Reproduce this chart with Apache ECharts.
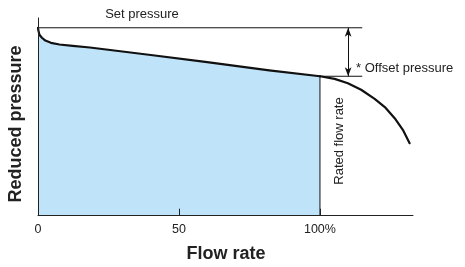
<!DOCTYPE html>
<html>
<head>
<meta charset="utf-8">
<script src="https://cdn.jsdelivr.net/npm/echarts@6/dist/echarts.min.js"></script>
<style>html,body{margin:0;padding:0;background:#fff}#c{width:465px;height:267px}</style>
</head>
<body>
<div id="c"></div>
<script>
// Regulation curve (reduced pressure vs flow rate), set pressure = 100
var flowX  = [0, 0.1, 0.5, 1.4, 2.6, 4.6, 7.6, 12.3, 18.4, 40, 60, 82, 100];
var pressY = [100, 98.8, 96.3, 94.7, 93.2, 92.0, 91.1, 90.4, 89.5, 85.5, 81.7, 77.3, 74.2];
var tailX  = [100, 105.2, 109.9, 114.6, 119.4, 123.0, 126.5, 129.4, 131.8];
var tailY  = [74.2, 72.8, 70.5, 67.0, 62.2, 57.8, 51.9, 45.7, 38.6];
var setPressure = 100;
var ratedFlow = 100;
var offsetLevel = 74.2;
var refLineEnd = 115;
var arrowX = 110;
var xTicks = [0, 50, 100];
var xTickLabels = ['0', '50', '100%'];
var xMax = 133, yMax = 105.2;

function pairs(xs, ys){ return xs.map(function(x,i){ return [x, ys[i]]; }); }

var FONT = 'Liberation Sans, Arial, Helvetica, sans-serif';
var chart = echarts.init(document.getElementById('c'), null, {renderer:'canvas'});
chart.setOption({
  animation:false,
  backgroundColor:'#fff',
  grid:{left:38, right:52, top:18, bottom:51.3},
  xAxis:{type:'value', min:0, max:xMax, z:10,
    axisLine:{show:true, lineStyle:{color:'#222', width:1}},
    axisTick:{show:true, inside:true, length:7, customValues:xTicks, lineStyle:{color:'#222'}},
    axisLabel:{show:true, customValues:xTicks, margin:7, fontSize:12.5, color:'#222', fontFamily:FONT,
      formatter:function(v){ var i = xTicks.indexOf(v); return i>=0 ? xTickLabels[i] : ''; }},
    splitLine:{show:false}
  },
  yAxis:{type:'value', min:0, max:yMax, z:10,
    axisLine:{show:true, lineStyle:{color:'#222', width:1}},
    axisTick:{show:false}, axisLabel:{show:false}, splitLine:{show:false}
  },
  series:[
    {type:'line', data:pairs(flowX, pressY), smooth:false, symbol:'none',
      lineStyle:{color:'#111', width:2.2, join:'round', cap:'round'}, areaStyle:{color:'#bfe4fa', opacity:1}, z:3},
    {type:'line', data:pairs(tailX, tailY), smooth:false, symbol:'none',
      lineStyle:{color:'#111', width:2.2, join:'round', cap:'round'}, z:3},
    {type:'line', data:[[0, setPressure],[refLineEnd, setPressure]], symbol:'none',
      lineStyle:{color:'#111', width:1}, z:4},
    {type:'line', data:[[ratedFlow, offsetLevel],[refLineEnd, offsetLevel]], symbol:'none',
      lineStyle:{color:'#111', width:1}, z:4},
    {type:'line', data:[[ratedFlow, 0],[ratedFlow, offsetLevel]], symbol:'none',
      lineStyle:{color:'#111', width:1}, z:4},
    {type:'line', data:[], symbol:'none',
      markLine:{silent:true, symbol:['arrow','arrow'], symbolSize:[5,9],
        lineStyle:{color:'#111', width:1, type:'solid'}, label:{show:false},
        data:[[{coord:[arrowX, setPressure]},{coord:[arrowX, offsetLevel]}]]}}
  ],
  graphic:[
    {type:'text', x:142, y:14.5, style:{text:'Set pressure', fill:'#222', font:'13px '+FONT, textAlign:'center', textVerticalAlign:'middle'}},
    {type:'text', x:356, y:68, style:{text:'* Offset pressure', fill:'#222', font:'13px '+FONT, textAlign:'left', textVerticalAlign:'middle'}},
    {type:'text', x:339.5, y:141, rotation:Math.PI/2, style:{text:'Rated flow rate', fill:'#222', font:'13px '+FONT, textAlign:'center', textVerticalAlign:'middle'}},
    {type:'text', x:226, y:254, style:{text:'Flow rate', fill:'#222', font:'bold 18px '+FONT, textAlign:'center', textVerticalAlign:'middle'}},
    {type:'text', x:16, y:124, rotation:Math.PI/2, style:{text:'Reduced pressure', fill:'#222', font:'bold 18px '+FONT, textAlign:'center', textVerticalAlign:'middle'}}
  ]
});
</script>
</body>
</html>
